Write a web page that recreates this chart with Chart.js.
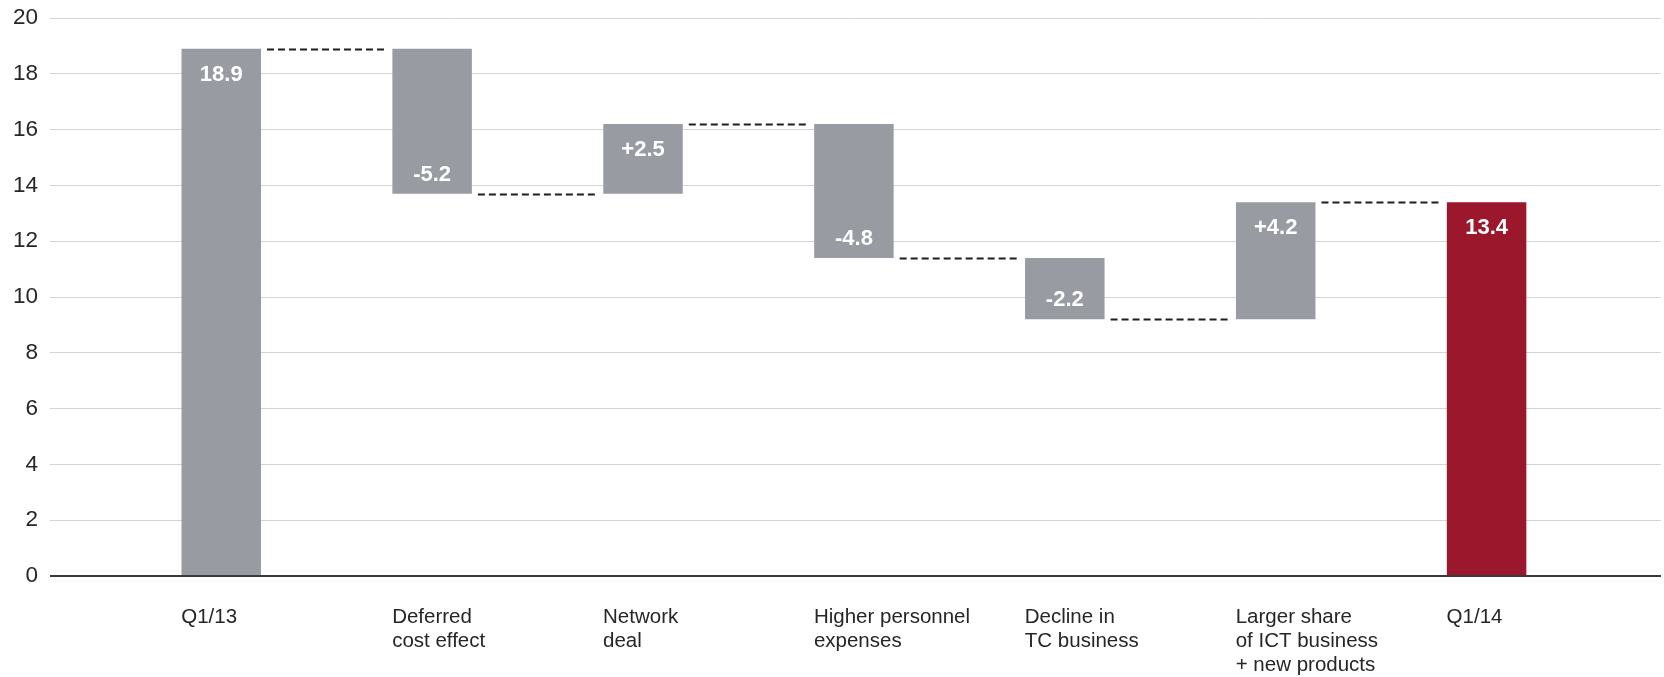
<!DOCTYPE html>
<html>
<head>
<meta charset="utf-8">
<script src="https://cdn.jsdelivr.net/npm/chart.js@4.4.1/dist/chart.umd.min.js"></script>
<style>
  body { margin: 0; background: #fff; }
  canvas { display: block; }
</style>
</head>
<body>
<canvas id="canvasChart" width="1664" height="677"></canvas>
<script>
// chart data
var categories = [
  ['Q1/13'],
  ['Deferred', 'cost effect'],
  ['Network', 'deal'],
  ['Higher personnel', 'expenses'],
  ['Decline in', 'TC business'],
  ['Larger share', 'of ICT business', '+ new products'],
  ['Q1/14']
];
var startTotal = 18.9;
var changes = [-5.2, 2.5, -4.8, -2.2, 4.2];
var endTotal = 13.4;
var yTicks = [0, 2, 4, 6, 8, 10, 12, 14, 16, 18, 20];

var grayColor = '#989ca2';
var redColor = '#9b172b';
var fontFamily = "'Liberation Sans', Arial, sans-serif";

// build floating bars for the waterfall
var bars = [];
var levels = [];
var barLabels = [];
var labelAtTop = [];
var colors = [];

bars.push({ x: 0, y: [0, startTotal] });
levels.push(startTotal);
barLabels.push(startTotal.toFixed(1));
labelAtTop.push(true);
colors.push(grayColor);

var level = startTotal;
changes.forEach(function (c, i) {
  var next = Math.round((level + c) * 10) / 10;
  bars.push({ x: i + 1, y: [level, next] });
  levels.push(next);
  barLabels.push((c > 0 ? '+' : '') + c.toFixed(1));
  labelAtTop.push(c > 0);
  colors.push(grayColor);
  level = next;
});

bars.push({ x: categories.length - 1, y: [0, endTotal] });
barLabels.push(endTotal.toFixed(1));
labelAtTop.push(true);
colors.push(redColor);

// dashed connectors between bars
var connectorPlugin = {
  id: 'connectors',
  afterDatasetsDraw: function (chart) {
    var ctx = chart.ctx;
    var meta = chart.getDatasetMeta(0);
    var yScale = chart.scales.y;
    ctx.save();
    ctx.setLineDash([7, 4]);
    ctx.lineWidth = 2;
    ctx.strokeStyle = '#1e1e1e';
    for (var i = 0; i < levels.length; i++) {
      var el = meta.data[i];
      var nx = meta.data[i + 1];
      var y = Math.round(yScale.getPixelForValue(levels[i])) + 0.5;
      ctx.beginPath();
      ctx.moveTo(el.x + el.width / 2 + 6, y);
      ctx.lineTo(nx.x - nx.width / 2 - 6, y);
      ctx.stroke();
    }
    ctx.restore();
  }
};

// value labels inside bars
var valueLabelPlugin = {
  id: 'valueLabels',
  afterDatasetsDraw: function (chart) {
    var ctx = chart.ctx;
    var meta = chart.getDatasetMeta(0);
    ctx.save();
    ctx.fillStyle = '#fff';
    ctx.font = "bold 22px " + fontFamily;
    ctx.textAlign = 'center';
    ctx.textBaseline = 'alphabetic';
    meta.data.forEach(function (el, i) {
      var top = Math.min(el.y, el.base);
      var bottom = Math.max(el.y, el.base);
      var y = labelAtTop[i] ? top + 32 : bottom - 13;
      ctx.fillText(barLabels[i], el.x, y);
    });
    ctx.restore();
  }
};

var canvas = document.getElementById('canvasChart');
var chart = new Chart(canvas, {
  type: 'bar',
  data: {
    datasets: [{
      data: bars,
      backgroundColor: colors,
      borderWidth: 0,
      categoryPercentage: 1,
      barPercentage: 0.377
    }]
  },
  options: {
    responsive: false,
    animation: false,
    layout: {
      padding: { left: 13, right: 3, top: 18, bottom: 0 }
    },
    plugins: {
      legend: { display: false },
      tooltip: { enabled: false }
    },
    scales: {
      x: {
        type: 'linear',
        offset: false,
        min: -0.812,
        max: 6.827,
        afterBuildTicks: function (axis) {
          axis.ticks = categories.map(function (c, i) { return { value: i }; });
        },
        afterFit: function (axis) {
          axis.height = 101;
          axis.paddingLeft = 0;
          axis.paddingRight = 0;
        },
        grid: { display: false, drawTicks: false },
        border: { display: false },
        ticks: {
          autoSkip: false,
          maxRotation: 0,
          align: 'start',
          labelOffset: -40,
          padding: 29,
          color: '#262626',
          font: { family: fontFamily, size: 20.5, lineHeight: 1.17 },
          callback: function (value) {
            var i = Math.round(value);
            return categories[i] || '';
          }
        }
      },
      y: {
        min: 0,
        max: 20,
        afterBuildTicks: function (axis) {
          axis.ticks = yTicks.map(function (v) { return { value: v }; });
        },
        afterFit: function (axis) {
          axis.width = 37;
          axis.paddingTop = 0;
          axis.paddingBottom = 0;
        },
        border: { display: false },
        grid: {
          drawTicks: false,
          color: function (ctx) { return ctx.tick && ctx.tick.value === 0 ? '#3a3a3a' : '#d4d4d4'; },
          lineWidth: function (ctx) { return ctx.tick && ctx.tick.value === 0 ? 2 : 1; }
        },
        ticks: {
          padding: 12,
          color: '#262626',
          font: { family: fontFamily, size: 22.5 }
        }
      }
    }
  },
  plugins: [connectorPlugin, valueLabelPlugin]
});
</script>
</body>
</html>
